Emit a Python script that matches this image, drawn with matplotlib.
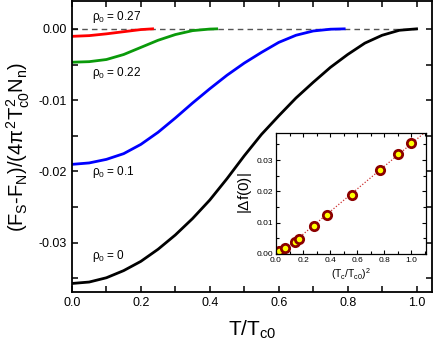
import numpy as np
import matplotlib
matplotlib.use("Agg")
import matplotlib.pyplot as plt
from matplotlib.ticker import MultipleLocator, FormatStrFormatter

plt.rcParams["font.family"] = ["Liberation Sans", "DejaVu Sans"]
plt.rcParams["mathtext.fontset"] = "custom"
plt.rcParams["mathtext.rm"] = "Liberation Sans"
plt.rcParams["mathtext.it"] = "Liberation Sans"
plt.rcParams["mathtext.bf"] = "Liberation Sans:bold"

# main panel: free energy difference vs T/Tc0
t_black = [0, 0.05, 0.1, 0.15, 0.2, 0.25, 0.3, 0.35, 0.4, 0.45, 0.5, 0.55, 0.6, 0.65, 0.7,
           0.75, 0.8, 0.85, 0.9, 0.95, 1.0]
f_black = [-0.0357, -0.0355, -0.0349, -0.0339, -0.0326, -0.0309, -0.0289, -0.0266, -0.0240, -0.0210,
           -0.0178, -0.0148, -0.0122, -0.0097, -0.0075, -0.0054, -0.0036, -0.0020, -0.0009, -0.0002, 0.0]

t_blue = [0, 0.05, 0.1, 0.15, 0.2, 0.25, 0.3, 0.35, 0.4, 0.45, 0.5, 0.55, 0.6, 0.65, 0.7, 0.75, 0.79]
f_blue = [-0.0190, -0.0188, -0.0183, -0.0175, -0.0162, -0.0145, -0.0125, -0.0104, -0.0084, -0.0065,
          -0.0048, -0.0033, -0.0019, -0.0009, -0.0003, -0.00005, 0.0]

t_green = [0, 0.05, 0.1, 0.15, 0.2, 0.25, 0.3, 0.35, 0.4, 0.42]
f_green = [-0.00468, -0.0046, -0.0043, -0.0036, -0.0026, -0.0016, -0.0008, -0.00025, -0.00003, 0.0]

t_red = [0, 0.05, 0.1, 0.15, 0.2, 0.234]
f_red = [-0.00105, -0.00095, -0.0007, -0.0004, -0.0001, 0.0]

labels = ["$\\rho_0$ = 0.27", "$\\rho_0$ = 0.22", "$\\rho_0$ = 0.1", "$\\rho_0$ = 0"]

# inset: |df(0)| vs (Tc/Tc0)^2
tc2 = [0.025, 0.069, 0.14, 0.167, 0.28, 0.377, 0.564, 0.771, 0.906, 0.998]
df0 = [0.00085, 0.0019, 0.0038, 0.0047, 0.0089, 0.0123, 0.0190, 0.0269, 0.0319, 0.0355]

fig = plt.figure(figsize=(4.36, 3.46), dpi=100)
ax = fig.add_axes([0.165, 0.156, 0.826, 0.841])

ax.hlines(0, 0, 1.0, colors="#555555", linestyles=(0, (4, 3)), linewidth=1.0, zorder=1)
ax.plot(t_red, f_red, color="#ff0000", lw=2)
ax.plot(t_green, f_green, color="#0a9a0a", lw=2)
ax.plot(t_blue, f_blue, color="#0000ff", lw=2)
ax.plot(t_black, f_black, color="black", lw=2)

for txt, y in zip(labels, [0.0017, -0.0062, -0.0201, -0.0318]):
    ax.text(0.058, y, txt, fontsize=8.5, va="center", ha="left")

ax.set_xlim(0, 1.045)
ax.set_ylim(-0.0369, 0.0039)
ax.xaxis.set_major_locator(MultipleLocator(0.2))
ax.xaxis.set_minor_locator(MultipleLocator(0.1))
ax.yaxis.set_major_locator(MultipleLocator(0.01))
ax.yaxis.set_minor_locator(MultipleLocator(0.005))
ax.xaxis.set_major_formatter(FormatStrFormatter("%.1f"))
ax.yaxis.set_major_formatter(FormatStrFormatter("%.2f"))
ax.tick_params(which="both", direction="in", top=True, right=True, labelsize=9, width=1.1, length=4)
for s in ax.spines.values():
    s.set_linewidth(1.3)
ax.set_xlabel("$T/T_{c0}$", fontsize=15, labelpad=7)
ax.set_ylabel("$(F_S\\text{-}F_N)/(4\\pi^2T_{c0}^2N_n)$", fontsize=14.5, labelpad=5)

# inset
ins = fig.add_axes([0.633, 0.266, 0.344, 0.35])
coef = np.polyfit(tc2, df0, 1)
xfit = np.array([0, 1.11])
ins.plot(xfit, np.polyval(coef, xfit), color="#cc3333", lw=0.9, ls=(0, (1, 1.5)))
ins.plot(tc2, df0, "o", ms=6, mfc="#ffff00", mec="#8b0000", mew=2)
ins.set_xlim(0, 1.11)
ins.set_ylim(0, 0.0387)
ins.xaxis.set_major_locator(MultipleLocator(0.2))
ins.xaxis.set_minor_locator(MultipleLocator(0.1))
ins.yaxis.set_major_locator(MultipleLocator(0.01))
ins.yaxis.set_minor_locator(MultipleLocator(0.005))
ins.xaxis.set_major_formatter(FormatStrFormatter("%.1f"))
ins.yaxis.set_major_formatter(FormatStrFormatter("%.2f"))
ins.tick_params(which="both", direction="in", top=True, right=True, labelsize=6, width=0.8, pad=2)
ins.tick_params(which="major", length=3)
ins.tick_params(which="minor", length=2)
for s in ins.spines.values():
    s.set_linewidth(0.9)
ins.set_xlabel("$(T_c/T_{c0})^2$", fontsize=7.5, labelpad=2)
ins.set_ylabel("|$\\Delta$f(0)|", fontsize=11, labelpad=2)

fig.savefig("out.png", dpi=100, facecolor="white")
